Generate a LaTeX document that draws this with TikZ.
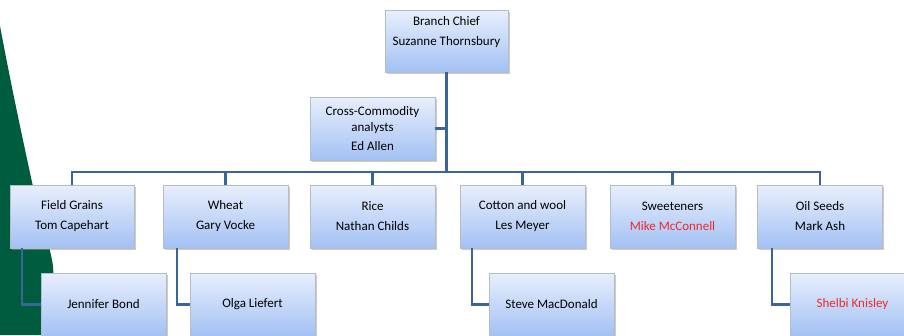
\documentclass[tikz,border=0pt]{standalone}
\usepackage{fontspec}
\setmainfont{Carlito}
\usepackage{xcolor}
\usetikzlibrary{positioning,shadows}
\definecolor{boxtop}{HTML}{E8EFFC}
\definecolor{boxbot}{HTML}{A3C1F4}
\definecolor{boxline}{HTML}{B4BCC8}
\definecolor{linkblue}{HTML}{3A6599}
\definecolor{leafgreen}{HTML}{005C3E}
\definecolor{namered}{HTML}{F0282C}
\tikzset{%
	unit/.style    = {draw=boxline, rectangle, minimum width=125pt, minimum height=63pt, text centered, align=center,
	                  top color=boxtop, bottom color=boxbot, font=\fontsize{13}{16}\selectfont,
	                  drop shadow={shadow xshift=1.5pt, shadow yshift=-1.5pt, fill=black!40, opacity=.5}},
	link/.style    = {draw=linkblue, line width=2.8pt},
	sublink/.style = {draw=linkblue, line width=2.2pt},
}

\begin{document}
\begin{tikzpicture}[x=1pt,y=-1pt]
	\useasboundingbox (0,0) rectangle (904,335);
	\clip (0,0) rectangle (904,335);
	\fill[leafgreen] (0,26) .. controls (12,90) and (24,145) .. (32,182)
		.. controls (40,215) and (48,240) .. (52,260)
		.. controls (56,280) and (50,292) .. (45,300) -- (42,335) -- (0,335) -- cycle;
	
	\node[unit, minimum width=123pt, minimum height=62pt] (chief) at (446.5,41) {Branch Chief\\[4pt]Suzanne Thornsbury\\[4pt]~};
	\node[unit] (cross) at (372.5,128.5) {Cross-Commodity\\analysts\\[3pt]Ed Allen};
	
	\node[unit, minimum width=124pt] (field) at (72,216.5) {Field Grains\\[4pt]Tom Capehart};
	\node[unit] (wheat) at (225.5,216.5) {Wheat\\[4pt]Gary Vocke};
	\node[unit] (rice) at (372.5,216.5) {Rice\\[4pt]Nathan Childs};
	\node[unit] (cotton) at (522.5,216.5) {Cotton and wool\\[4pt]Les Meyer};
	\node[unit] (sweet) at (672.5,216.5) {Sweeteners\\[4pt]\textcolor{namered}{Mike McConnell}};
	\node[unit] (oil) at (820,216.5) {Oil Seeds\\[4pt]Mark Ash};
	
	\node[unit] (bond) at (103.5,304.5) {Jennifer Bond};
	\node[unit] (liefert) at (252.5,304.5) {Olga Liefert};
	\node[unit] (macdonald) at (551.5,304.5) {Steve MacDonald};
	\node[unit] (knisley) at (852.5,304.5) {\textcolor{namered}{Shelbi Knisley}};
	
	% bus under the chief
	\coordinate (hub) at (446.5,172);
	\draw[link] (chief.south) -- (hub);
	\draw[link] (cross.east) -- (cross.east -| hub);
	\foreach \n in {field,wheat,rice,cotton,sweet,oil}
		\draw[link] (hub) -| (\n.north);
	
	% staff under the leads
	\draw[sublink] ([xshift=12pt]field.south west) |- (bond.west);
	\draw[sublink] ([xshift=14pt]wheat.south west) |- (liefert.west);
	\draw[sublink] ([xshift=12pt]cotton.south west) |- (macdonald.west);
	\draw[sublink] ([xshift=15pt]oil.south west) |- (knisley.west);
	
\end{tikzpicture}
\end{document}
